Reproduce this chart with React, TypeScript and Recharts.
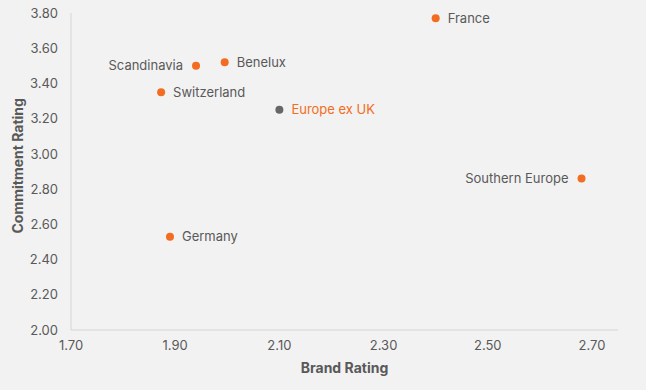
import React from 'react';
import { ScatterChart, Scatter, XAxis, YAxis } from 'recharts';

const names = ['France', 'Scandinavia', 'Benelux', 'Switzerland', 'Europe ex UK', 'Southern Europe', 'Germany'];
const brandRating = [2.40, 1.94, 1.995, 1.873, 2.10, 2.68, 1.89];
const commitmentRating = [3.77, 3.50, 3.52, 3.35, 3.25, 2.86, 2.53];
const xTicks = [1.7, 1.9, 2.1, 2.3, 2.5, 2.7];
const yTicks = [2.0, 2.2, 2.4, 2.6, 2.8, 3.0, 3.2, 3.4, 3.6, 3.8];

const data = names.map((name, i) => ({ name, brand: brandRating[i], commitment: commitmentRating[i] }));

const ORANGE = '#f26d21';
const TEXT = '#595959';
const FONT = 'Inter, "Noto Sans", sans-serif';
const leftLabels = ['Scandinavia', 'Southern Europe'];
const highlight = 'Europe ex UK';

const renderPoint = (props) => {
  const { cx, cy, payload } = props;
  const isTotal = payload.name === highlight;
  const onLeft = leftLabels.includes(payload.name);
  return (
    <g>
      <circle cx={cx} cy={cy} r={4} fill={isTotal ? '#666666' : ORANGE} />
      <text
        x={onLeft ? cx - 13 : cx + 12}
        y={cy}
        dy="0.35em"
        textAnchor={onLeft ? 'end' : 'start'}
        fill={isTotal ? ORANGE : TEXT}
        fontSize={13}
        fontFamily={FONT}
      >
        {payload.name}
      </text>
    </g>
  );
};

const App = () => {
  return (
    <div style={{ position: 'absolute', left: 0, top: 0, width: 646, height: 390, background: '#f2f2f2' }}>
      <ScatterChart width={646} height={390} margin={{ top: 13, right: 28, bottom: 0, left: 0 }}>
        <XAxis
          type="number"
          dataKey="brand"
          domain={[1.7, 2.75]}
          ticks={xTicks}
          tickFormatter={(v) => v.toFixed(2)}
          height={60}
          tickLine={false}
          tickSize={6}
          tickMargin={5}
          axisLine={{ stroke: '#d4d4d4' }}
          tick={{ fill: TEXT, fontSize: 13, fontFamily: FONT }}
          label={{ value: 'Brand Rating', position: 'insideBottom', offset: 17, fill: TEXT, fontSize: 14, fontWeight: 'bold', fontFamily: FONT }}
        />
        <YAxis
          type="number"
          dataKey="commitment"
          domain={[2.0, 3.8]}
          ticks={yTicks}
          tickFormatter={(v) => v.toFixed(2)}
          width={71}
          tickLine={false}
          tickSize={6}
          tickMargin={7}
          axisLine={{ stroke: '#d4d4d4' }}
          tick={{ fill: TEXT, fontSize: 13, fontFamily: FONT }}
          label={{ value: 'Commitment Rating', angle: -90, position: 'insideLeft', offset: 18, dy: 62, fill: TEXT, fontSize: 14, fontWeight: 'bold', fontFamily: FONT }}
        />
        <Scatter data={data} shape={renderPoint} isAnimationActive={false} />
      </ScatterChart>
    </div>
  );
};

export default App;
